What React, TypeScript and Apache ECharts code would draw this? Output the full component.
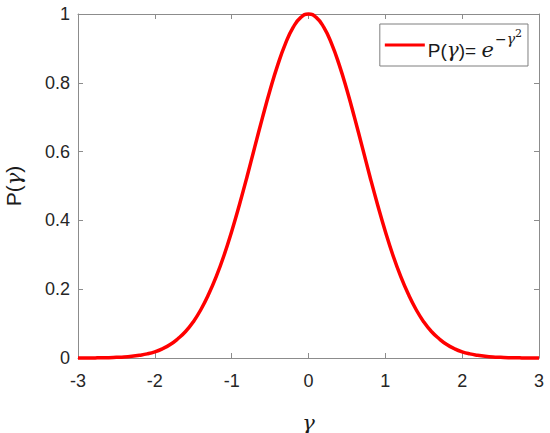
import React, { useEffect, useRef } from "react";
import * as echarts from "echarts";

const xValues = [
  -3.0, -2.9, -2.8, -2.7, -2.6, -2.5, -2.4, -2.3, -2.2, -2.1,
  -2.0, -1.9, -1.8, -1.7, -1.6, -1.5, -1.4, -1.3, -1.2, -1.1,
  -1.0, -0.9, -0.8, -0.7, -0.6, -0.5, -0.4, -0.3, -0.2, -0.1,
  0.0, 0.1, 0.2, 0.3, 0.4, 0.5, 0.6, 0.7, 0.8, 0.9,
  1.0, 1.1, 1.2, 1.3, 1.4, 1.5, 1.6, 1.7, 1.8, 1.9,
  2.0, 2.1, 2.2, 2.3, 2.4, 2.5, 2.6, 2.7, 2.8, 2.9, 3.0,
];

const pValues = [
  0.000, 0.000, 0.000, 0.001, 0.001, 0.002, 0.003, 0.005, 0.008, 0.012,
  0.018, 0.027, 0.039, 0.056, 0.077, 0.105, 0.141, 0.185, 0.237, 0.298,
  0.368, 0.445, 0.527, 0.613, 0.698, 0.779, 0.852, 0.914, 0.961, 0.990,
  1.000, 0.990, 0.961, 0.914, 0.852, 0.779, 0.698, 0.613, 0.527, 0.445,
  0.368, 0.298, 0.237, 0.185, 0.141, 0.105, 0.077, 0.056, 0.039, 0.027,
  0.018, 0.012, 0.008, 0.005, 0.003, 0.002, 0.001, 0.001, 0.000, 0.000, 0.000,
];

const xTicks = { min: -3, max: 3, interval: 1 };
const yTicks = { min: 0, max: 1, interval: 0.2 };

const seriesName = "P(γ)= e^-γ^2";

export default function App() {
  const ref = useRef<HTMLDivElement>(null);

  useEffect(() => {
    if (!ref.current) return;
    const chart = echarts.init(ref.current, null, { renderer: "svg" });
    const axisColor = "#8c8c8c";
    const labelFont = {
      color: "#262626",
      fontSize: 18,
      fontFamily: "Liberation Sans, Arial, sans-serif",
    };
    const data = xValues.map((x, i) => [x, pValues[i]]);
    chart.setOption({
      animation: false,
      backgroundColor: "#ffffff",
      grid: {
        left: 78,
        right: 11,
        top: 14,
        bottom: 75,
        containLabel: false,
        outerBoundsMode: "none",
      },
      legend: {
        right: 22,
        top: 24,
        orient: "vertical",
        backgroundColor: "#ffffff",
        borderColor: "#7f7f7f",
        borderWidth: 1,
        borderRadius: 0,
        padding: [4, 6, 4, 5],
        itemWidth: 40,
        itemHeight: 3,
        itemGap: 0,
        icon: "rect",
        data: [seriesName],
        formatter: () => "{a|P(}{g|γ}{a|)= }{e|e}{s|−γ}{t|2}",
        textStyle: {
          padding: [0, 0, 0, -2],
          rich: {
            a: {
              fontSize: 19,
              color: "#1a1a1a",
              fontFamily: "Liberation Sans, Arial, sans-serif",
              lineHeight: 34,
              verticalAlign: "bottom",
              padding: [0, 0, 2, 0],
            },
            g: {
              fontSize: 20,
              color: "#1a1a1a",
              fontStyle: "italic",
              fontFamily: "DejaVu Serif, serif",
              lineHeight: 34,
              verticalAlign: "bottom",
              padding: [0, 0, 2, 0],
            },
            e: {
              fontSize: 21,
              color: "#1a1a1a",
              fontStyle: "italic",
              fontFamily: "DejaVu Serif, serif",
              lineHeight: 34,
              verticalAlign: "bottom",
              padding: [0, 1, 2, 0],
            },
            s: {
              fontSize: 14,
              color: "#1a1a1a",
              fontStyle: "italic",
              fontFamily: "DejaVu Serif, serif",
              lineHeight: 34,
              verticalAlign: "top",
              padding: [4, 0, 0, 0],
            },
            t: {
              fontSize: 11,
              color: "#1a1a1a",
              fontFamily: "DejaVu Serif, serif",
              lineHeight: 34,
              verticalAlign: "top",
              padding: [0, 0, 0, 0],
            },
          },
        },
      },
      xAxis: [
        {
          type: "value",
          min: xTicks.min,
          max: xTicks.max,
          interval: xTicks.interval,
          position: "bottom",
          axisLine: { show: true, onZero: false, lineStyle: { color: axisColor, width: 1 } },
          axisTick: { show: true, inside: true, length: 5, lineStyle: { color: axisColor } },
          splitLine: { show: false },
          axisLabel: { ...labelFont, margin: 14 },
          name: "γ",
          nameLocation: "middle",
          nameGap: 54,
          nameTextStyle: {
            fontSize: 21,
            color: "#1a1a1a",
            fontStyle: "italic",
            fontFamily: "DejaVu Serif, serif",
          },
        },
        {
          type: "value",
          min: xTicks.min,
          max: xTicks.max,
          interval: xTicks.interval,
          position: "top",
          axisLine: { show: true, onZero: false, lineStyle: { color: axisColor, width: 1 } },
          axisTick: { show: true, inside: true, length: 5, lineStyle: { color: axisColor } },
          splitLine: { show: false },
          axisLabel: { show: false },
        },
      ],
      yAxis: [
        {
          type: "value",
          min: yTicks.min,
          max: yTicks.max,
          interval: yTicks.interval,
          position: "left",
          axisLine: { show: true, onZero: false, lineStyle: { color: axisColor, width: 1 } },
          axisTick: { show: true, inside: true, length: 5, lineStyle: { color: axisColor } },
          splitLine: { show: false },
          axisLabel: { ...labelFont, margin: 8 },
          name: "{p|P(}{g|γ}{p|)}",
          nameLocation: "middle",
          nameGap: 54,
          nameRotate: 90,
          nameTextStyle: {
            rich: {
              p: {
                fontSize: 21,
                color: "#1a1a1a",
                fontFamily: "Liberation Sans, Arial, sans-serif",
              },
              g: {
                fontSize: 21,
                color: "#1a1a1a",
                fontStyle: "italic",
                fontFamily: "DejaVu Serif, serif",
              },
            },
          },
        },
        {
          type: "value",
          min: yTicks.min,
          max: yTicks.max,
          interval: yTicks.interval,
          position: "right",
          axisLine: { show: true, onZero: false, lineStyle: { color: axisColor, width: 1 } },
          axisTick: { show: true, inside: true, length: 5, lineStyle: { color: axisColor } },
          splitLine: { show: false },
          axisLabel: { show: false },
        },
      ],
      series: [
        {
          name: seriesName,
          type: "line",
          xAxisIndex: 0,
          yAxisIndex: 0,
          data,
          smooth: true,
          showSymbol: false,
          symbol: "none",
          color: "#ff0000",
          lineStyle: { color: "#ff0000", width: 3.5 },
          clip: false,
        },
      ],
    });
    return () => chart.dispose();
  }, []);

  return <div ref={ref} style={{ width: 550, height: 433, position: "absolute", left: 0, top: 0 }} />;
}
